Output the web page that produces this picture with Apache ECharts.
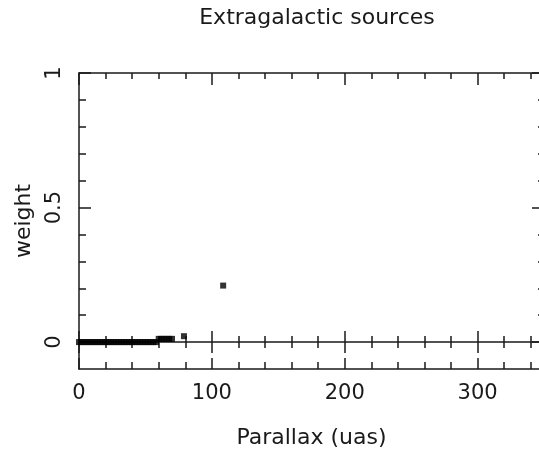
<!DOCTYPE html>
<html>
<head>
<meta charset="utf-8">
<script src="https://cdn.jsdelivr.net/npm/echarts@6/dist/echarts.min.js"></script>
<style>html,body{margin:0;padding:0;background:#fff;}#c{width:539px;height:454px;}</style>
</head>
<body>
<div id="c"></div>
<script>
// Data
var parallax = [0, 2, 4, 6, 8, 10, 12, 14, 16, 18, 20, 22, 24, 26, 28, 30, 32, 34, 36, 38, 40, 42, 44, 46, 48, 50, 52, 54, 56, 58,
                60, 62, 64, 66, 68, 70, 79, 108.5];
var weight   = [0, 0, 0, 0, 0, 0, 0, 0, 0, 0, 0, 0, 0, 0, 0, 0, 0, 0, 0, 0, 0, 0, 0, 0, 0, 0, 0, 0, 0, 0,
                0.012, 0.012, 0.012, 0.012, 0.012, 0.012, 0.022, 0.21];
var xMajorTicks = [0, 100, 200, 300];
var xMinorTicks = [20, 40, 60, 80, 120, 140, 160, 180, 220, 240, 260, 280, 320, 340];
var yMajorTicks = [0, 0.5, 1];
var yMinorTicks = [0.1, 0.2, 0.3, 0.4, 0.6, 0.7, 0.8, 0.9];
var xMin = 0, xMax = 350, yMin = -0.1, yMax = 1;

var FONT = 'DejaVu Sans';
var INK = '#1a1a1a';
var LW = 1.5;

function line(show) {
  return { show: show, onZero: false, lineStyle: { color: INK, width: LW } };
}
function xAx(opts) {
  var base = {
    type: 'value', min: xMin, max: xMax, position: 'bottom', offset: 0,
    splitLine: { show: false },
    axisLine: line(false),
    axisLabel: { show: false },
    axisTick: { show: false }
  };
  return Object.assign(base, opts);
}
function yAx(opts) {
  var base = {
    type: 'value', min: yMin, max: yMax, position: 'left', offset: 0,
    splitLine: { show: false },
    axisLine: line(false),
    axisLabel: { show: false },
    axisTick: { show: false }
  };
  return Object.assign(base, opts);
}
function tick(vals, len, inside) {
  return { show: true, inside: inside, length: len, customValues: vals, lineStyle: { color: INK, width: LW } };
}
var MID = -26.9;

var xAxes = [
  xAx({
    axisLine: line(true),
    axisTick: tick(xMajorTicks, 11, true),
    axisLabel: { show: true, customValues: xMajorTicks, margin: 14, fontFamily: FONT, fontSize: 21, color: INK },
    name: 'Parallax (uas)', nameLocation: 'middle', nameGap: 58,
    nameTextStyle: { fontFamily: FONT, fontSize: 22, color: INK }
  }),
  xAx({ axisTick: tick(xMinorTicks, 7, true) }),
  xAx({ position: 'top', axisLine: line(true), axisTick: tick(xMajorTicks, 12, true) }),
  xAx({ position: 'top', axisTick: tick(xMinorTicks, 6, true) }),
  xAx({ offset: MID, axisLine: line(true), axisTick: tick(xMajorTicks, 11, true) }),
  xAx({ offset: MID, axisTick: tick(xMajorTicks, 11, false) }),
  xAx({ offset: MID, axisTick: tick(xMinorTicks, 6, true) }),
  xAx({ offset: MID, axisTick: tick(xMinorTicks, 6, false) })
];
var yAxes = [
  yAx({
    axisLine: line(true),
    axisTick: tick(yMajorTicks, 12, true),
    axisLabel: { show: true, customValues: yMajorTicks, rotate: 90, margin: 14, fontFamily: FONT, fontSize: 21, color: INK,
      formatter: function (v) { return String(v); } },
    name: 'weight', nameLocation: 'middle', nameGap: 44, nameRotate: 90,
    nameTextStyle: { fontFamily: FONT, fontSize: 22, color: INK }
  }),
  yAx({ axisTick: tick(yMinorTicks, 7, true) }),
  yAx({ position: 'right', axisLine: line(true), axisTick: tick(yMajorTicks, 12, true) }),
  yAx({ position: 'right', axisTick: tick(yMinorTicks, 6, true) })
];

var pts = parallax.map(function (x, i) { return [x, weight[i]]; });

var chart = echarts.init(document.getElementById('c'), null, { renderer: 'canvas' });
chart.setOption({
  animation: false,
  backgroundColor: '#ffffff',
  title: {
    text: 'Extragalactic sources', left: 312, top: 2, textAlign: 'center',
    textStyle: { fontFamily: FONT, fontSize: 22, fontWeight: 'normal', color: INK }
  },
  grid: { left: 79, top: 73, width: 465, height: 296, containLabel: false, outerBoundsMode: 'none' },
  xAxis: xAxes,
  yAxis: yAxes,
  series: [{
    type: 'scatter', xAxisIndex: 0, yAxisIndex: 0, data: pts,
    symbol: 'rect', symbolSize: 6, clip: false,
    itemStyle: { color: '#000' }, z: 10
  }]
});
</script>
</body>
</html>
